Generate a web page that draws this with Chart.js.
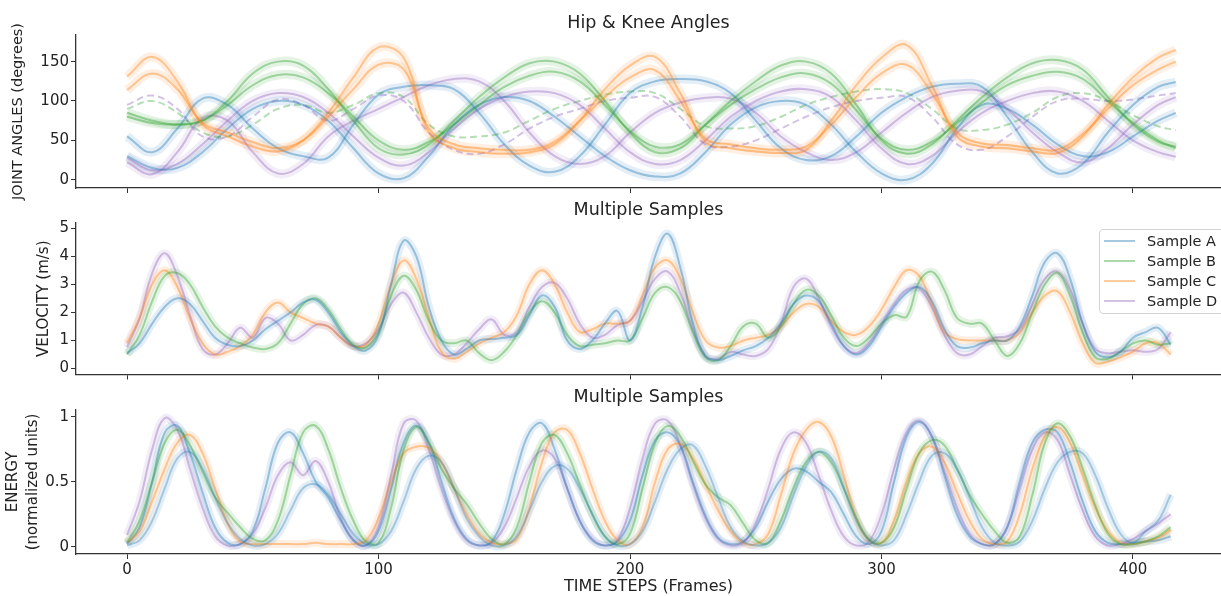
<!DOCTYPE html>
<html>
<head>
<meta charset="utf-8">
<script src="https://cdn.jsdelivr.net/npm/chart.js@4.4.1/dist/chart.umd.min.js"></script>
<style>
  html, body { margin: 0; padding: 0; background: #fff; overflow: hidden; }
  #wrap { position: relative; width: 1221px; height: 596px; }
  .panel { position: absolute; left: 0; }
  #legend {
    position: absolute; left: 1099px; top: 229px; width: 130px; height: 85px;
    box-sizing: border-box; border: 1px solid #d4d4d4; border-radius: 4px;
    background: rgba(255,255,255,0.85); font-family: 'DejaVu Sans', sans-serif;
    font-size: 14.5px; color: #222; padding-top: 1px;
  }
  .item { position: relative; height: 20px; line-height: 20px; }
  .item i { position: absolute; left: 4px; top: 9px; width: 31px; height: 2px; }
  .item span { position: absolute; left: 47px; }
</style>
</head>
<body>
<div id="wrap">
  <canvas id="angles" class="panel" style="top:0" width="1221" height="215"></canvas>
  <canvas id="velocity" class="panel" style="top:200px" width="1221" height="187"></canvas>
  <canvas id="energy" class="panel" style="top:387px" width="1221" height="209"></canvas>
  <div id="legend"></div>
</div>
<script>
// ---- data ----
// top panel sampled every 10 frames
const framesAngle = [0,10,20,30,40,50,60,70,80,90,100,110,120,130,140,150,160,170,180,190,
  200,210,220,230,240,250,260,270,280,290,300,310,320,330,340,350,360,370,380,390,400,410,417];
// lower panels sampled every 5 frames
const frames = [0,5,10,15,20,25,30,35,40,45,50,55,60,65,70,75,80,85,90,95,
  100,105,110,115,120,125,130,135,140,145,150,155,160,165,170,175,180,185,190,195,
  200,205,210,215,220,225,230,235,240,245,250,255,260,265,270,275,280,285,290,295,
  300,305,310,315,320,325,330,335,340,345,350,355,360,365,370,375,380,385,390,395,
  400,405,410,415];

const sampleNames = ["Sample A", "Sample B", "Sample C", "Sample D"];

// joint angles (degrees)
const angleA1 = [55,35,65,103,95,65,40,30,28,70,108,118,120,115,85,45,18,10,30,70,
  110,125,128,125,110,75,40,25,30,55,85,105,118,122,118,80,35,8,20,60,95,118,124];
const angleA2 = [30,15,15,35,65,90,100,95,75,40,8,2,30,70,95,105,100,80,55,30,
  12,4,8,35,70,92,100,95,70,35,8,0,20,65,95,90,70,45,30,35,55,75,85];
const angleB1 = [85,75,70,75,100,135,150,145,115,75,40,32,45,75,105,130,148,150,135,100,
  60,35,40,70,100,125,145,150,135,95,50,33,45,75,105,130,148,152,140,105,70,48,42];
const angleB2 = [80,72,70,75,95,120,133,130,110,80,50,38,48,70,95,118,132,137,125,95,
  62,42,45,70,95,115,130,135,122,88,52,38,48,72,98,120,132,137,128,100,72,50,40];
const angleC1 = [131,156,125,70,55,42,36,50,85,130,168,155,60,40,35,33,35,45,75,115,
  145,156,110,48,40,36,34,38,75,120,155,171,120,55,42,40,36,34,55,95,130,155,165];
const angleC2 = [114,135,115,72,60,48,40,50,80,115,146,140,65,45,40,38,38,48,75,105,
  130,139,100,52,45,40,38,42,70,105,135,146,110,60,46,44,40,38,58,90,120,140,150];
const angleD1 = [28,12,20,45,75,100,110,105,85,55,28,18,35,65,90,105,112,110,95,65,
  35,20,25,50,80,100,112,115,105,75,40,20,30,60,85,100,110,112,100,75,50,35,29];
const angleD2 = [22,7,35,78,75,35,8,20,55,75,90,105,120,128,125,100,60,30,20,30,
  60,85,98,104,103,85,55,35,25,35,60,85,105,113,112,90,60,35,22,40,70,95,105];
// dashed traces
const angleDdash = [95,107,90,55,55,80,102,95,75,90,107,100,60,38,33,45,65,80,90,100,
  104,105,80,45,42,50,65,80,92,100,104,105,80,45,38,55,80,100,103,100,102,107,110];
const angleBdash = [90,100,85,60,55,70,90,95,85,95,110,105,70,55,55,60,75,90,100,108,
  112,110,90,68,65,68,80,95,105,112,115,110,90,65,63,70,85,105,110,100,82,68,63];

// velocity (m/s)
const velA = [0.55,0.9,1.6,2.2,2.5,2.3,1.7,1.1,0.85,0.8,1.0,1.4,1.7,2.0,2.35,2.45,2.0,1.3,0.8,0.65,
  1.2,3.0,4.55,4.0,2.2,1.0,0.5,0.7,1.0,1.05,1.1,1.2,1.9,2.6,2.2,1.0,0.7,1.0,1.6,2.05,
  1.0,2.2,4.0,4.8,3.6,1.6,0.45,0.3,0.45,0.65,0.8,1.1,1.6,2.3,2.6,2.4,1.6,0.8,0.5,0.8,
  1.5,2.2,2.7,2.9,2.4,1.4,0.8,0.75,0.9,1.0,1.0,1.5,2.6,3.8,4.1,3.2,1.6,0.6,0.4,0.6,
  1.1,1.3,1.45,0.85];
const velB = [0.5,1.2,2.4,3.3,3.4,3.0,2.2,1.5,1.1,0.9,0.75,0.7,0.9,1.6,2.3,2.5,2.1,1.4,0.85,0.75,
  1.3,2.6,3.3,2.8,1.7,1.0,0.9,1.0,0.55,0.3,0.6,1.2,2.0,2.4,2.0,1.2,0.8,0.85,0.9,1.0,
  1.0,1.8,2.7,2.9,2.4,1.3,0.4,0.3,0.8,1.5,1.6,1.1,1.5,2.3,2.8,2.6,1.9,1.1,0.8,1.1,
  1.6,1.9,1.85,3.1,3.45,2.8,1.8,1.6,1.6,1.0,0.45,0.9,2.0,3.0,3.4,2.6,1.3,0.4,0.35,0.6,
  0.9,1.0,0.85,0.9];
const velC = [0.9,1.8,3.0,3.5,2.9,1.8,0.9,0.5,0.6,0.8,1.2,2.0,2.35,2.0,1.8,1.6,1.5,1.1,0.8,0.85,
  1.6,3.0,3.85,3.2,1.8,0.6,0.35,0.6,0.9,1.1,1.3,1.9,3.0,3.5,3.0,2.0,1.3,1.4,1.6,1.6,
  1.7,2.6,3.6,3.85,3.2,2.0,1.0,0.75,0.8,1.0,1.1,1.2,1.5,2.0,2.3,2.2,1.7,1.3,1.2,1.5,
  2.1,2.9,3.5,3.3,2.3,1.3,1.05,1.0,1.0,1.0,1.0,1.3,2.0,2.6,2.75,2.0,0.9,0.2,0.25,0.4,
  0.6,0.9,0.9,0.5];
const velD = [0.76,1.8,3.4,4.1,3.3,1.9,0.7,0.5,0.9,1.45,1.1,1.8,1.6,1.0,1.2,1.55,1.5,1.1,0.8,0.9,
  1.4,2.3,2.7,2.0,1.1,0.5,0.5,0.9,1.4,1.75,1.2,1.3,2.2,2.9,3.05,2.5,1.6,1.1,1.2,1.55,
  1.7,2.4,3.2,3.45,2.7,1.4,0.45,0.35,0.6,0.5,0.45,0.7,1.6,2.9,3.2,2.5,1.5,0.8,0.55,0.9,
  1.6,2.3,2.8,2.85,2.2,1.2,0.55,0.5,0.8,1.1,1.15,1.4,2.3,3.2,3.45,2.8,1.6,0.7,0.55,0.6,
  0.65,0.6,0.7,1.3];

// energy (normalized)
const energyA = [0.02,0.15,0.5,0.88,0.93,0.72,0.42,0.15,0.03,0.02,0.12,0.45,0.8,0.88,0.72,0.5,0.38,0.2,0.05,0.01,
  0.12,0.45,0.8,0.93,0.8,0.5,0.22,0.06,0.01,0.04,0.25,0.6,0.88,0.95,0.75,0.45,0.2,0.05,0.01,0.04,
  0.2,0.55,0.82,0.88,0.78,0.5,0.24,0.07,0.02,0.04,0.15,0.35,0.52,0.6,0.58,0.5,0.42,0.25,0.08,0.02,
  0.12,0.5,0.85,0.96,0.85,0.55,0.25,0.08,0.02,0.02,0.15,0.5,0.8,0.9,0.88,0.65,0.35,0.12,0.03,0.02,
  0.03,0.04,0.05,0.08];
const energyA2 = [0.01,0.05,0.2,0.45,0.68,0.73,0.6,0.38,0.18,0.06,0.01,0.02,0.1,0.28,0.45,0.48,0.4,0.25,0.1,0.02,
  0.02,0.12,0.35,0.6,0.7,0.65,0.45,0.22,0.08,0.01,0.01,0.08,0.28,0.5,0.62,0.6,0.45,0.25,0.08,0.01,
  0.02,0.12,0.35,0.6,0.75,0.78,0.62,0.38,0.15,0.04,0.01,0.03,0.15,0.4,0.62,0.73,0.68,0.45,0.2,0.05,
  0.01,0.05,0.25,0.5,0.7,0.72,0.6,0.38,0.15,0.03,0.01,0.04,0.2,0.45,0.65,0.73,0.72,0.55,0.3,0.1,
  0.03,0.12,0.2,0.4];
const energyB = [0.03,0.2,0.5,0.8,0.9,0.78,0.58,0.38,0.26,0.15,0.06,0.05,0.2,0.55,0.88,0.93,0.75,0.45,0.2,0.04,
  0.03,0.3,0.75,0.92,0.8,0.6,0.45,0.33,0.18,0.06,0.02,0.15,0.5,0.8,0.86,0.72,0.48,0.25,0.08,0.02,
  0.1,0.45,0.8,0.93,0.85,0.66,0.48,0.38,0.32,0.18,0.05,0.03,0.2,0.45,0.65,0.73,0.65,0.45,0.22,0.06,
  0.03,0.15,0.45,0.72,0.82,0.78,0.6,0.4,0.25,0.12,0.03,0.08,0.4,0.8,0.95,0.85,0.6,0.32,0.1,0.02,
  0.02,0.04,0.08,0.15];
const energyC = [0.03,0.12,0.35,0.6,0.8,0.86,0.72,0.45,0.18,0.04,0.02,0.02,0.02,0.02,0.02,0.03,0.02,0.02,0.02,0.05,
  0.22,0.5,0.72,0.77,0.76,0.65,0.45,0.25,0.1,0.03,0.02,0.06,0.3,0.65,0.88,0.9,0.72,0.45,0.2,0.05,
  0.02,0.15,0.5,0.75,0.79,0.68,0.48,0.28,0.12,0.03,0.02,0.1,0.4,0.72,0.9,0.96,0.85,0.55,0.22,0.05,
  0.03,0.2,0.5,0.72,0.77,0.65,0.42,0.2,0.06,0.02,0.04,0.25,0.6,0.85,0.92,0.8,0.55,0.3,0.12,0.03,
  0.02,0.04,0.07,0.13];
const energyD = [0.09,0.35,0.75,0.99,0.9,0.6,0.3,0.08,0.01,0.02,0.1,0.3,0.55,0.65,0.55,0.66,0.5,0.22,0.05,0.01,
  0.15,0.55,0.95,0.97,0.75,0.45,0.2,0.05,0.01,0.03,0.15,0.38,0.62,0.74,0.68,0.45,0.2,0.06,0.01,0.05,
  0.3,0.68,0.95,0.97,0.78,0.48,0.22,0.06,0.01,0.03,0.18,0.45,0.75,0.88,0.8,0.55,0.28,0.08,0.01,0.04,
  0.25,0.6,0.88,0.97,0.85,0.58,0.3,0.1,0.02,0.02,0.15,0.45,0.75,0.88,0.82,0.55,0.28,0.08,0.01,0.02,
  0.06,0.12,0.18,0.25];

const xTicks = [0, 100, 200, 300, 400];

// ---- styling ----
const COLORS = { A: [31,119,180], B: [44,160,44], C: [255,127,14], D: [148,103,189] };
const LINE_ALPHA = 0.4;
const BAND_ALPHA = 0.12;
const X_MIN = -20.3, X_MAX = 435;
const AXIS_COLOR = '#333';
const TEXT_COLOR = '#222';
Chart.defaults.font.family = "'DejaVu Sans', sans-serif";
Chart.defaults.color = TEXT_COLOR;

function rgba(c, a) { return `rgba(${c[0]},${c[1]},${c[2]},${a})`; }

// each trace gets a soft wide stroke behind it (the shaded spread)
function buildSets(xs, traces, bandWidth) {
  const sets = [];
  traces.forEach(t => {
    const pts = xs.map((x, i) => ({ x: x, y: t.values[i] }));
    if (t.band) {
      sets.push({ data: pts, borderColor: rgba(t.color, BAND_ALPHA), borderWidth: bandWidth,
        pointRadius: 0, tension: 0.4, order: 1, fill: false });
    }
    sets.push({ label: t.label || '', data: pts, borderColor: rgba(t.color, t.alpha || LINE_ALPHA),
      borderWidth: 2, borderDash: t.dash || [], pointRadius: 0, tension: 0.4, order: 0, fill: false });
  });
  return sets;
}

function xScale(showLabels, height) {
  return {
    type: 'linear', min: X_MIN, max: X_MAX,
    afterBuildTicks: s => { s.ticks = xTicks.map(v => ({ value: v })); },
    ticks: { display: showLabels, autoSkip: false, maxRotation: 0, padding: 2,
      font: { size: 15 }, color: TEXT_COLOR },
    grid: { drawOnChartArea: false, drawTicks: true, tickLength: 5, tickColor: AXIS_COLOR, tickWidth: 1 },
    border: { display: true, color: AXIS_COLOR, width: 1.3 },
    title: showLabels ? { display: true, text: 'TIME STEPS (Frames)', font: { size: 16 },
      color: TEXT_COLOR, padding: { top: 0, bottom: 0 } } : { display: false },
    afterFit: s => { s.height = height; }
  };
}

function yScale(min, max, step, title, titlePad, fontSize, lineHeight) {
  return {
    min: min, max: max,
    ticks: { stepSize: step, includeBounds: false, padding: 2, font: { size: 15 }, color: TEXT_COLOR,
      callback: v => String(v) },
    grid: { drawOnChartArea: false, drawTicks: true, tickLength: 5, tickColor: AXIS_COLOR, tickWidth: 1 },
    border: { display: true, color: AXIS_COLOR, width: 1.3 },
    title: { display: true, text: title, font: { size: fontSize, lineHeight: lineHeight || 1.2 },
      color: TEXT_COLOR, padding: { top: titlePad, bottom: 0 } },
    afterFit: s => { s.width = 76; }
  };
}

function makeChart(id, datasets, titleText, titlePad, xs, ys) {
  return new Chart(document.getElementById(id), {
    type: 'line',
    data: { datasets: datasets },
    options: {
      responsive: false, animation: false,
      layout: { padding: 0 },
      plugins: {
        legend: { display: false },
        tooltip: { enabled: false },
        title: { display: true, text: titleText, fullSize: false, color: TEXT_COLOR,
          font: { size: 17.5, weight: 'normal' }, padding: titlePad }
      },
      scales: { x: xs, y: ys }
    }
  });
}

// ---- top: joint angles ----
const angleTraces = [
  { values: angleC1, color: COLORS.C, band: true },
  { values: angleC2, color: COLORS.C, band: true },
  { values: angleB1, color: COLORS.B, band: true },
  { values: angleB2, color: COLORS.B, band: true },
  { values: angleA1, color: COLORS.A, band: true },
  { values: angleA2, color: COLORS.A, band: true },
  { values: angleD1, color: COLORS.D, band: true },
  { values: angleD2, color: COLORS.D, band: true },
  { values: angleDdash, color: COLORS.D, dash: [7, 4] },
  { values: angleBdash, color: COLORS.B, dash: [7, 4], alpha: 0.35 }
];
// canvas is taller than the panel so the long axis title is not cut off
makeChart('angles', buildSets(framesAngle, angleTraces, 9), 'Hip & Knee Angles',
  { top: 13, bottom: 1 }, xScale(false, 27),
  yScale(-10.5, 183.8, 50, 'JOINT ANGLES (degrees)', 10, 14.5));

// ---- middle: velocity ----
const velTraces = [
  { label: sampleNames[0], values: velA, color: COLORS.A, band: true },
  { label: sampleNames[1], values: velB, color: COLORS.B, band: true },
  { label: sampleNames[2], values: velC, color: COLORS.C, band: true },
  { label: sampleNames[3], values: velD, color: COLORS.D, band: true }
];
makeChart('velocity', buildSets(frames, velTraces, 8), 'Multiple Samples',
  { top: 0, bottom: 2 }, xScale(false, 12.5),
  yScale(-0.21, 5.18, 1, 'VELOCITY (m/s)', 35, 15));

// ---- bottom: energy ----
const energyTraces = [
  { values: energyA2, color: COLORS.A, band: true, alpha: 0.32 },
  { values: energyB, color: COLORS.B, band: true },
  { values: energyC, color: COLORS.C, band: true },
  { values: energyA, color: COLORS.A, band: true },
  { values: energyD, color: COLORS.D, band: true }
];
makeChart('energy', buildSets(frames, energyTraces, 8), 'Multiple Samples',
  { top: 0, bottom: 2 }, xScale(true, 42),
  yScale(-0.056, 1.052, 0.5, ['ENERGY', '(normalized units)'], 3, 15, 1.35));

// ---- legend for the velocity panel ----
const legend = document.getElementById('legend');
velTraces.forEach(t => {
  const row = document.createElement('div');
  row.className = 'item';
  const sw = document.createElement('i');
  sw.style.background = rgba(t.color, LINE_ALPHA);
  const tx = document.createElement('span');
  tx.textContent = t.label;
  row.appendChild(sw); row.appendChild(tx);
  legend.appendChild(row);
});
</script>
</body>
</html>
